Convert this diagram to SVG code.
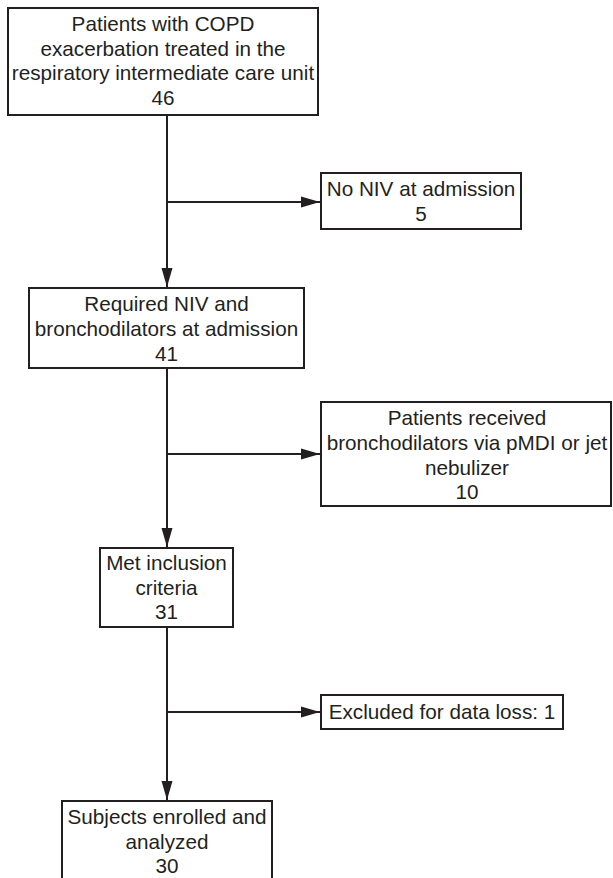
<svg xmlns="http://www.w3.org/2000/svg" width="613" height="878" viewBox="0 0 613 878">
<style>
.box{fill:#fff;stroke:#231f20;stroke-width:2}
.t{font-family:"Liberation Sans",Arial,sans-serif;font-size:20.7px;fill:#231f20;text-anchor:middle}
.c{stroke:#231f20;stroke-width:2;fill:none}
</style>
<defs>
<marker id="ah" markerUnits="userSpaceOnUse" markerWidth="20" markerHeight="12" refX="19" refY="6" orient="auto">
<path d="M0,0.5 L19,6 L0,11.5 Z" fill="#231f20"/>
</marker>
</defs>
<rect width="613" height="878" fill="#fff"/>
<g id="connectors">
<line class="c" x1="167" y1="115" x2="167" y2="287" marker-end="url(#ah)"/>
<line class="c" x1="167" y1="202" x2="320" y2="202" marker-end="url(#ah)"/>
<line class="c" x1="167" y1="368" x2="167" y2="547" marker-end="url(#ah)"/>
<line class="c" x1="167" y1="454" x2="320" y2="454" marker-end="url(#ah)"/>
<line class="c" x1="167" y1="627" x2="167" y2="800" marker-end="url(#ah)"/>
<line class="c" x1="167" y1="712" x2="320" y2="712" marker-end="url(#ah)"/>
</g>
<g id="n1">
<rect class="box" x="8" y="8" width="310" height="107"/>
<text class="t" x="163" y="31">Patients with COPD</text>
<text class="t" x="163" y="56">exacerbation treated in the</text>
<text class="t" x="163" y="80">respiratory intermediate care unit</text>
<text class="t" x="163" y="105">46</text>
</g>
<g id="n2">
<rect class="box" x="321" y="173" width="200" height="56"/>
<text class="t" x="421" y="196">No NIV at admission</text>
<text class="t" x="421" y="221">5</text>
</g>
<g id="n3">
<rect class="box" x="29" y="288" width="275" height="80"/>
<text class="t" x="166.5" y="311">Required NIV and</text>
<text class="t" x="166.5" y="336">bronchodilators at admission</text>
<text class="t" x="166.5" y="361">41</text>
</g>
<g id="n4">
<rect class="box" x="321" y="402" width="290" height="104"/>
<text class="t" x="467" y="425">Patients received</text>
<text class="t" x="467" y="450">bronchodilators via pMDI or jet</text>
<text class="t" x="467" y="475">nebulizer</text>
<text class="t" x="467" y="499">10</text>
</g>
<g id="n5">
<rect class="box" x="100" y="548" width="133" height="79"/>
<text class="t" x="166.5" y="570">Met inclusion</text>
<text class="t" x="166.5" y="595">criteria</text>
<text class="t" x="166.5" y="619">31</text>
</g>
<g id="n6">
<rect class="box" x="321" y="695" width="242" height="34"/>
<text class="t" x="442" y="719">Excluded for data loss: 1</text>
</g>
<g id="n7">
<rect class="box" x="62" y="801" width="210" height="80"/>
<text class="t" x="167" y="824">Subjects enrolled and</text>
<text class="t" x="167" y="849">analyzed</text>
<text class="t" x="167" y="873">30</text>
</g>
</svg>
